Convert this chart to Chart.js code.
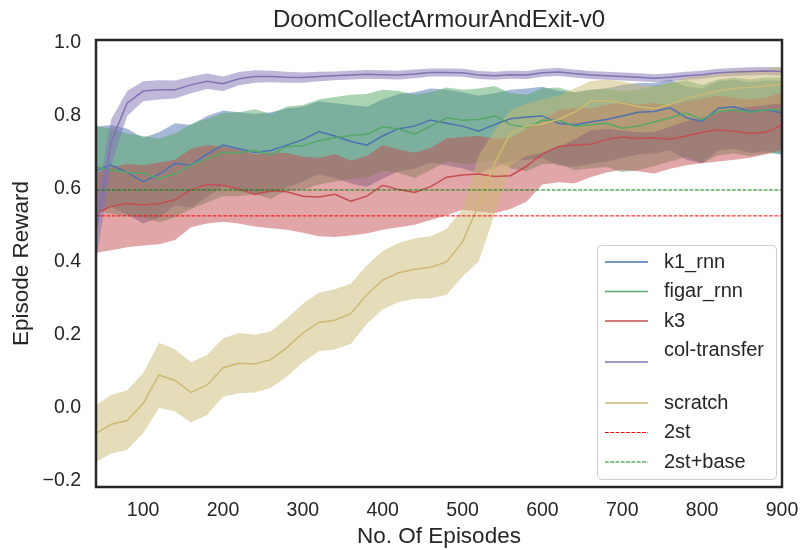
<!DOCTYPE html>
<html>
<head>
<meta charset="utf-8">
<script src="https://cdn.jsdelivr.net/npm/chart.js@4.4.1/dist/chart.umd.min.js"></script>
<style>
  body { margin: 0; background: #fff; }
  #wrap { width: 803px; height: 550px; }
</style>
</head>
<body>
<div id="wrap"><canvas id="rewardChart" width="803" height="550"></canvas></div>
<script>
// episodes sampled every 20 steps
const episodes = [41, 60, 80, 100, 120, 140, 160, 180, 200, 220, 240, 260, 280, 300, 320, 340, 360, 380, 400, 420, 440, 460,
    480, 500, 520, 540, 560, 580, 600, 620, 640, 660, 680, 700, 720, 740, 760, 780, 800, 820, 840, 860, 880, 900];

const k1Mean = [0.65, 0.665, 0.645, 0.62, 0.64, 0.67, 0.665, 0.695, 0.72, 0.71, 0.70, 0.705, 0.72, 0.735, 0.757, 0.745, 0.73, 0.72, 0.745, 0.765, 0.772, 0.789,
    0.78, 0.772, 0.758, 0.776, 0.792, 0.797, 0.80, 0.78, 0.776, 0.783, 0.79, 0.80, 0.81, 0.812, 0.822, 0.795, 0.785, 0.821, 0.825, 0.812, 0.817, 0.808];
const k1High = [0.77, 0.775, 0.765, 0.74, 0.755, 0.78, 0.775, 0.80, 0.815, 0.81, 0.805, 0.81, 0.82, 0.825, 0.84, 0.835, 0.83, 0.825, 0.845, 0.86, 0.865, 0.875,
    0.872, 0.865, 0.855, 0.862, 0.872, 0.875, 0.88, 0.868, 0.865, 0.872, 0.875, 0.885, 0.89, 0.89, 0.90, 0.88, 0.875, 0.895, 0.90, 0.892, 0.898, 0.895];
const k1Low = [0.535, 0.55, 0.53, 0.505, 0.52, 0.555, 0.548, 0.578, 0.605, 0.595, 0.585, 0.59, 0.604, 0.62, 0.64, 0.63, 0.615, 0.605, 0.628, 0.648, 0.655, 0.672,
    0.664, 0.656, 0.642, 0.66, 0.676, 0.68, 0.684, 0.664, 0.66, 0.668, 0.675, 0.684, 0.694, 0.697, 0.706, 0.68, 0.67, 0.705, 0.71, 0.698, 0.703, 0.693];

const figarMean = [0.66, 0.652, 0.645, 0.643, 0.628, 0.642, 0.665, 0.683, 0.70, 0.70, 0.705, 0.693, 0.716, 0.718, 0.732, 0.74, 0.746, 0.75, 0.77, 0.764, 0.75, 0.772,
    0.795, 0.788, 0.79, 0.80, 0.776, 0.768, 0.788, 0.789, 0.772, 0.776, 0.78, 0.766, 0.772, 0.783, 0.795, 0.808, 0.79, 0.812, 0.817, 0.81, 0.817, 0.817];
const figarHigh = [0.772, 0.765, 0.752, 0.745, 0.738, 0.752, 0.778, 0.792, 0.808, 0.81, 0.818, 0.805, 0.826, 0.83, 0.845, 0.852, 0.858, 0.86, 0.872, 0.868, 0.858, 0.865,
    0.878, 0.872, 0.875, 0.882, 0.862, 0.858, 0.875, 0.878, 0.865, 0.87, 0.875, 0.868, 0.872, 0.882, 0.89, 0.898, 0.885, 0.90, 0.905, 0.90, 0.905, 0.905];
const figarLow = [0.54, 0.532, 0.525, 0.523, 0.508, 0.522, 0.545, 0.563, 0.58, 0.58, 0.585, 0.573, 0.596, 0.598, 0.612, 0.62, 0.626, 0.63, 0.65, 0.644, 0.63, 0.652,
    0.675, 0.668, 0.67, 0.68, 0.656, 0.648, 0.668, 0.669, 0.652, 0.656, 0.66, 0.646, 0.652, 0.663, 0.675, 0.688, 0.67, 0.692, 0.697, 0.69, 0.697, 0.697];

const k3Mean = [0.533, 0.552, 0.56, 0.556, 0.56, 0.57, 0.598, 0.612, 0.61, 0.60, 0.585, 0.595, 0.592, 0.58, 0.578, 0.585, 0.566, 0.58, 0.61, 0.598, 0.59, 0.606,
    0.632, 0.638, 0.641, 0.634, 0.636, 0.662, 0.696, 0.716, 0.72, 0.722, 0.735, 0.742, 0.738, 0.74, 0.736, 0.745, 0.755, 0.762, 0.758, 0.752, 0.755, 0.775];
const k3High = [0.645, 0.66, 0.668, 0.665, 0.672, 0.68, 0.71, 0.72, 0.716, 0.708, 0.695, 0.70, 0.698, 0.688, 0.685, 0.695, 0.678, 0.69, 0.72, 0.708, 0.70, 0.712,
    0.738, 0.742, 0.745, 0.738, 0.74, 0.765, 0.79, 0.815, 0.822, 0.82, 0.83, 0.838, 0.832, 0.835, 0.83, 0.84, 0.848, 0.855, 0.85, 0.845, 0.85, 0.865];
const k3Low = [0.425, 0.432, 0.44, 0.445, 0.448, 0.46, 0.495, 0.505, 0.51, 0.505, 0.497, 0.492, 0.488, 0.48, 0.47, 0.468, 0.472, 0.478, 0.488, 0.495, 0.502, 0.515,
    0.528, 0.543, 0.538, 0.533, 0.545, 0.565, 0.612, 0.618, 0.615, 0.632, 0.645, 0.652, 0.648, 0.642, 0.655, 0.665, 0.67, 0.675, 0.68, 0.685, 0.695, 0.707];

const colMean = [0.48, 0.73, 0.835, 0.868, 0.872, 0.872, 0.885, 0.895, 0.888, 0.902, 0.908, 0.908, 0.906, 0.905, 0.908, 0.91, 0.912, 0.914, 0.913, 0.912, 0.915, 0.919,
    0.919, 0.918, 0.912, 0.91, 0.913, 0.912, 0.918, 0.92, 0.916, 0.912, 0.91, 0.908, 0.906, 0.903, 0.906, 0.91, 0.913, 0.918, 0.92, 0.922, 0.923, 0.922];
const colHigh = [0.56, 0.79, 0.868, 0.895, 0.898, 0.897, 0.908, 0.916, 0.908, 0.92, 0.925, 0.924, 0.921, 0.919, 0.921, 0.922, 0.924, 0.926, 0.925, 0.924, 0.927, 0.93,
    0.93, 0.929, 0.923, 0.921, 0.924, 0.923, 0.929, 0.931, 0.927, 0.923, 0.921, 0.919, 0.917, 0.914, 0.917, 0.921, 0.924, 0.929, 0.931, 0.933, 0.934, 0.933];
const colLow = [0.40, 0.665, 0.80, 0.84, 0.845, 0.848, 0.862, 0.874, 0.868, 0.884, 0.891, 0.892, 0.891, 0.891, 0.895, 0.898, 0.90, 0.902, 0.901, 0.90, 0.903, 0.908,
    0.908, 0.907, 0.901, 0.899, 0.902, 0.901, 0.907, 0.909, 0.905, 0.901, 0.899, 0.897, 0.895, 0.892, 0.895, 0.899, 0.902, 0.907, 0.909, 0.911, 0.912, 0.911];

const scratchMean = [-0.07, -0.045, -0.035, 0.012, 0.09, 0.075, 0.042, 0.062, 0.11, 0.122, 0.12, 0.132, 0.165, 0.205, 0.234, 0.24, 0.258, 0.31, 0.35, 0.37, 0.38, 0.385,
    0.40, 0.455, 0.555, 0.67, 0.752, 0.772, 0.778, 0.79, 0.81, 0.84, 0.842, 0.835, 0.826, 0.82, 0.832, 0.848, 0.858, 0.868, 0.876, 0.878, 0.882, 0.887];
const scratchHigh = [0.008, 0.035, 0.048, 0.095, 0.178, 0.16, 0.125, 0.145, 0.19, 0.205, 0.20, 0.21, 0.245, 0.285, 0.315, 0.325, 0.34, 0.39, 0.43, 0.452, 0.465, 0.47,
    0.49, 0.545, 0.69, 0.76, 0.815, 0.835, 0.845, 0.855, 0.875, 0.895, 0.90, 0.895, 0.885, 0.88, 0.89, 0.905, 0.91, 0.915, 0.925, 0.925, 0.928, 0.935];
const scratchLow = [-0.148, -0.125, -0.115, -0.07, 0.0, -0.01, -0.04, -0.02, 0.03, 0.04, 0.042, 0.055, 0.085, 0.125, 0.155, 0.16, 0.175, 0.23, 0.27, 0.29, 0.298, 0.30,
    0.31, 0.36, 0.40, 0.53, 0.665, 0.69, 0.70, 0.715, 0.735, 0.76, 0.765, 0.76, 0.755, 0.755, 0.77, 0.785, 0.795, 0.81, 0.82, 0.825, 0.83, 0.835];

// baseline levels drawn as dashed lines
const twoStLevel = 0.526;
const twoStBaseLevel = 0.597;

const xTicks = [100, 200, 300, 400, 500, 600, 700, 800, 900];
const yTicks = [-0.2, 0.0, 0.2, 0.4, 0.6, 0.8, 1.0];

const seriesNames = ['k1_rnn', 'figar_rnn', 'k3', 'col-transfer\n', 'scratch'];
const seriesColors = ['#4C72B0', '#55A868', '#C44E52', '#8172B2', '#CCB974'];
const seriesMeans = [k1Mean, figarMean, k3Mean, colMean, scratchMean];
const seriesHighs = [k1High, figarHigh, k3High, colHigh, scratchHigh];
const seriesLows = [k1Low, figarLow, k3Low, colLow, scratchLow];

const FONT = '"Liberation Sans", Arial, sans-serif';
const INK = '#262626';
const TITLE = 'DoomCollectArmourAndExit-v0';

function pts(vals) {
    return episodes.map((x, i) => ({ x, y: vals[i] }));
}

function alpha(hex, a) {
    const n = parseInt(hex.slice(1), 16);
    return `rgba(${(n >> 16) & 255}, ${(n >> 8) & 255}, ${n & 255}, ${a})`;
}

const datasets = [];

// shaded bands first: a lower edge and an upper edge filled down to it
seriesNames.forEach((name, i) => {
    datasets.push({
        label: name + ' low',
        data: pts(seriesLows[i]),
        borderColor: 'rgba(0,0,0,0)',
        borderWidth: 0,
        pointRadius: 0,
        fill: false
    });
    datasets.push({
        label: name + ' high',
        data: pts(seriesHighs[i]),
        borderColor: 'rgba(0,0,0,0)',
        borderWidth: 0,
        pointRadius: 0,
        backgroundColor: alpha(seriesColors[i], 0.5),
        fill: '-1'
    });
});

// mean curves on top of the bands
seriesNames.forEach((name, i) => {
    datasets.push({
        label: name,
        data: pts(seriesMeans[i]),
        borderColor: seriesColors[i],
        borderWidth: 1.5,
        pointRadius: 0,
        fill: false
    });
});

const xMin = 41, xMax = 900;
datasets.push({
    label: '2st',
    data: [{ x: xMin, y: twoStLevel }, { x: xMax, y: twoStLevel }],
    borderColor: '#ff0000',
    borderWidth: 1,
    borderDash: [3.7, 1.6],
    pointRadius: 0,
    fill: false
});
datasets.push({
    label: '2st+base',
    data: [{ x: xMin, y: twoStBaseLevel }, { x: xMax, y: twoStBaseLevel }],
    borderColor: '#008000',
    borderWidth: 1,
    borderDash: [3.7, 1.6],
    pointRadius: 0,
    fill: false
});

// earlier datasets go underneath later ones
datasets.forEach((d, i) => { d.order = datasets.length - i; });

const legendItems = [
    ...seriesNames.map((n, i) => ({ text: n, color: seriesColors[i], dash: [] })),
    { text: '2st', color: '#ff0000', dash: [3.7, 1.6] },
    { text: '2st+base', color: '#008000', dash: [3.7, 1.6] }
];

const frameAndLegend = {
    id: 'frameAndLegend',
    afterDatasetsDraw(chart) {
        const { ctx, chartArea: a } = chart;
        ctx.save();
        ctx.strokeStyle = INK;
        ctx.lineWidth = 2.5;
        ctx.strokeRect(a.left, a.top, a.right - a.left, a.bottom - a.top);

        // title centred over the plot area
        ctx.fillStyle = INK;
        ctx.font = `24px ${FONT}`;
        ctx.textAlign = 'center';
        ctx.textBaseline = 'alphabetic';
        ctx.fillText(TITLE, (a.left + a.right) / 2, 27);

        // legend box in the lower right
        const bx = 597.5, by = 245.5, bw = 179, bh = 234;
        ctx.beginPath();
        ctx.roundRect(bx, by, bw, bh, 4);
        ctx.fillStyle = 'rgba(255,255,255,0.8)';
        ctx.fill();
        ctx.strokeStyle = '#cccccc';
        ctx.lineWidth = 1;
        ctx.stroke();

        const lineH = 23, gap = 6.5;
        let cy = 250.5;
        ctx.font = `20px ${FONT}`;
        ctx.textBaseline = 'middle';
        ctx.textAlign = 'left';
        legendItems.forEach(item => {
            const lines = item.text.split('\n');
            const h = lines.length * lineH;
            const my = cy + h / 2;
            ctx.beginPath();
            ctx.setLineDash(item.dash);
            ctx.strokeStyle = item.color;
            ctx.lineWidth = item.dash.length ? 1 : 1.5;
            ctx.moveTo(605, my);
            ctx.lineTo(648, my);
            ctx.stroke();
            ctx.setLineDash([]);
            ctx.fillStyle = INK;
            lines.forEach((t, j) => ctx.fillText(t, 664, cy + lineH * (j + 0.5)));
            cy += h + gap;
        });
        ctx.restore();
    }
};

new Chart(document.getElementById('rewardChart'), {
    type: 'line',
    data: { datasets },
    options: {
        responsive: false,
        devicePixelRatio: 1,
        animation: false,
        layout: { padding: { left: 0, right: 21, top: 40, bottom: 0 } },
        plugins: {
            legend: { display: false },
            tooltip: { enabled: false },
            title: { display: false },
            filler: { propagate: false }
        },
        scales: {
            x: {
                type: 'linear',
                min: xMin,
                max: xMax,
                afterBuildTicks: s => { s.ticks = xTicks.map(v => ({ value: v })); },
                afterFit: s => {
                    s.height = 63;
                    s.paddingLeft = 0;
                    s.paddingRight = 0;
                },
                grid: { display: false, drawTicks: false },
                border: { display: false },
                ticks: {
                    color: INK,
                    padding: 12,
                    maxRotation: 0,
                    font: { family: FONT, size: 19.5 },
                    callback: v => String(v)
                },
                title: {
                    display: true,
                    text: 'No. Of Episodes',
                    color: INK,
                    font: { family: FONT, size: 22.5, lineHeight: 1 },
                    padding: { top: 0, bottom: 2 }
                }
            },
            y: {
                min: -0.217,
                max: 1.008,
                afterBuildTicks: s => { s.ticks = yTicks.map(v => ({ value: v })); },
                afterFit: s => {
                    s.width = 96;
                    s.paddingTop = 0;
                    s.paddingBottom = 0;
                },
                grid: { display: false, drawTicks: false },
                border: { display: false },
                ticks: {
                    color: INK,
                    padding: 15,
                    font: { family: FONT, size: 19.5 },
                    callback: v => (v < 0 ? '\u2212' : '') + Math.abs(v).toFixed(1)
                },
                title: {
                    display: true,
                    text: 'Episode Reward',
                    color: INK,
                    font: { family: FONT, size: 22.5, lineHeight: 1 },
                    padding: { top: 10.5, bottom: 0 }
                }
            }
        }
    },
    plugins: [frameAndLegend]
});
</script>
</body>
</html>
